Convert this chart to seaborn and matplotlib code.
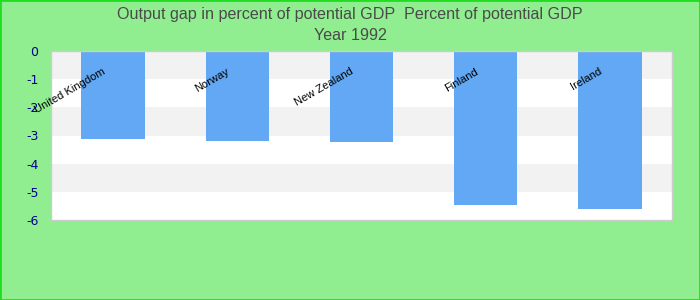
import matplotlib
matplotlib.use("Agg")
import matplotlib.pyplot as plt
import seaborn as sns
import pandas as pd

countries = ["United Kingdom", "Norway", "New Zealand", "Finland", "Ireland"]
values = [-3.12, -3.18, -3.22, -5.45, -5.62]
yticks = [0, -1, -2, -3, -4, -5, -6]
title1 = "Output gap in percent of potential GDP  Percent of potential GDP"
title2 = "Year 1992"

sns.set_theme(style="white")
plt.rcParams['font.family'] = ['DejaVu Sans']

df = pd.DataFrame({"country": countries, "value": values})

fig = plt.figure(figsize=(7, 3), dpi=100, facecolor="#90EE90")
ax = fig.add_axes([51/700, 80/300, 621/700, 169/300])
ax.set_facecolor("white")

for lo in [0, -2, -4]:
    ax.axhspan(lo - 1, lo, color="#f2f2f2", zorder=0, lw=0)

sns.barplot(data=df, x="country", y="value", color="#62A8F4", saturation=1,
            width=0.51, ax=ax, zorder=2, linewidth=0, edgecolor="none")

ax.set_ylim(-6, 0)
ax.set_xlim(-0.5, len(countries) - 0.5)
ax.set_yticks(yticks)
ax.set_yticklabels([str(t) for t in yticks], color="#00008B", fontsize=9)
ax.tick_params(axis="y", length=0, pad=9)
ax.set_xticks([])
ax.set_xlabel("")
ax.set_ylabel("")
for s in ax.spines.values():
    s.set_color("#cccccc")
    s.set_linewidth(1)

for i, c in enumerate(countries):
    ax.text(i - 0.07, -0.7, c, rotation=30, rotation_mode="anchor",
            ha="right", va="center", fontsize=8, color="black", zorder=3,
            family=["Liberation Sans", "DejaVu Sans"])

fig.text(0.5, 1 - 14/300, title1, ha="center", va="center", fontsize=11.6,
         color="#4a4a4a", family=["Liberation Sans", "DejaVu Sans"])
fig.text(0.5, 1 - 35/300, title2, ha="center", va="center", fontsize=11.6,
         color="#4a4a4a", family=["Liberation Sans", "DejaVu Sans"])

border = plt.Rectangle((0, 0), 1, 1, transform=fig.transFigure, fill=False,
                       edgecolor="#22dd22", linewidth=2)
fig.patches.append(border)

fig.savefig("out.png", dpi=100, facecolor=fig.get_facecolor())
